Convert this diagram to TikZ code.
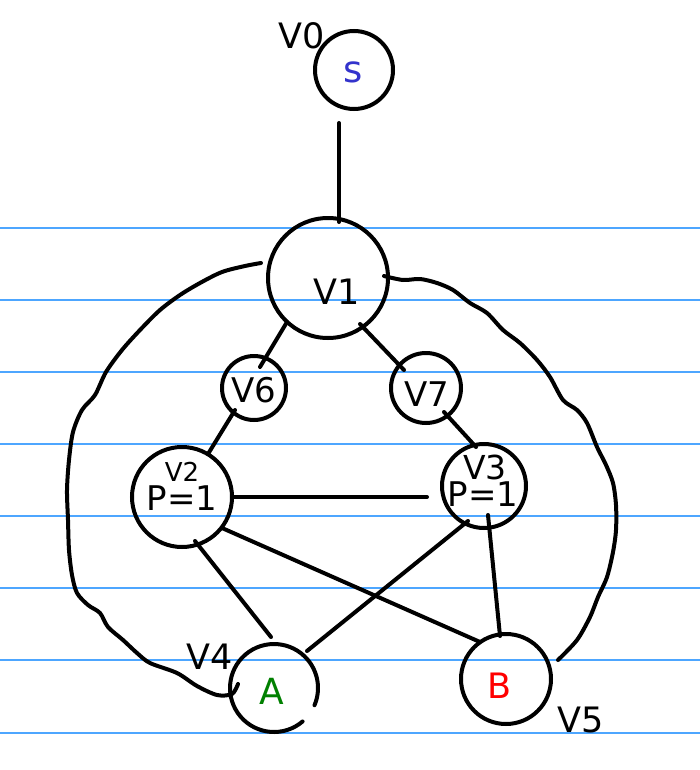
\documentclass[tikz,border=0pt]{standalone}
\usepackage{fontspec}
\setmainfont{DejaVu Sans}
\usetikzlibrary{calc}
\definecolor{ruleblue}{RGB}{77,166,255}
\definecolor{sblue}{RGB}{51,51,204}
\definecolor{agreen}{RGB}{0,128,0}
\begin{document}
\begin{tikzpicture}[x=1pt,y=-1pt,
  vert/.style={circle,draw,line width=4pt,inner sep=0pt},
  lbl/.style={inner sep=0pt,font=\fontsize{35}{40}\selectfont},
  small/.style={inner sep=0pt,font=\fontsize{26}{30}\selectfont},
  edge/.style={line width=4pt,line cap=round},
  rule/.style={ruleblue,line width=1.4pt}]
\fill[white] (0,0) rectangle (700,770);
\useasboundingbox (0,0) rectangle (700,770);
% ruled lines
\foreach \yy in {228,300,372,444,516,588,660,733}
  \draw[rule] (0,\yy) -- (700,\yy);
% vertices
\node[vert,minimum size=78pt] (s) at (354,70) {};
\node[vert,minimum size=120pt] (v1) at (328,278) {};
\node[vert,minimum size=64pt] (v6) at (254,388) {};
\node[vert,minimum size=70pt] (v7) at (426,388) {};
\node[vert,minimum size=100pt] (v2) at (182,497) {};
\node[vert,minimum size=84pt] (v3) at (484,486) {};
\node[inner sep=0pt,minimum size=88pt] (a) at (274,688) {};
\node[vert,minimum size=90pt] (b) at (506,679) {};
% hand-drawn circle of A with a gap
\draw[edge] ($(a)+(49.5:44)$) arc[start angle=49.5,end angle=383,radius=44];
% labels
\node[lbl] (l0) at (302,36) {V0};
\node[lbl,text=sblue,font=\fontsize{37}{42}\selectfont] (ls) at (353,72) {s};
\node[lbl] (l1) at (337,292) {V1};
\node[lbl,font=\fontsize{34}{38}\selectfont] (l6) at (254,390) {V6};
\node[lbl,font=\fontsize{34}{38}\selectfont] (l7) at (427,394) {V7};
\node[small] (l2) at (182,472) {V2};
\node[lbl,font=\fontsize{34}{38}\selectfont] (p2) at (182,498) {P=1};
\node[lbl,font=\fontsize{33}{38}\selectfont] (l3) at (485,467) {V3};
\node[lbl,font=\fontsize{34}{38}\selectfont] (p3) at (483,494) {P=1};
\node[lbl] (l4) at (210,657) {V4};
\node[lbl,text=agreen,font=\fontsize{36}{40}\selectfont] (la) at (272,691) {A};
\node[lbl,text=red,font=\fontsize{35}{40}\selectfont] (lb) at (499,686) {B};
\node[lbl] (l5) at (581,720) {V5};
% edges
\draw[edge] ($(s)+(-15,53)$) -- ($(v1)+(11,-56)$);
\draw[edge] ($(v1)+(-41,44)$) -- ($(v6)+(6,-21)$);
\draw[edge] ($(v1)+(32,46)$) -- ($(v7)+(-22,-18)$);
\draw[edge] ($(v6)+(-19,22)$) -- ($(v2)+(26,-43)$);
\draw[edge] ($(v7)+(18,24)$) -- ($(v3)+(-8,-39)$);
\draw[edge] ($(v2)+(50,0)$) -- ($(v3)+(-57,11)$);
\draw[edge] ($(v2)+(13,44)$) -- ($(a)+(-3,-51)$);
\draw[edge] ($(v2)+(40,31)$) -- ($(b)+(-26,-37)$);
\draw[edge] ($(v3)+(-16,35)$) -- ($(a)+(33,-37)$);
\draw[edge] ($(v3)+(4,29)$) -- ($(b)+(-6,-43)$);
% long curves
\coordinate (c0) at ($(v1)+(-67,-15)$);
\coordinate (c1) at ($(a)+(-36,-4)$);
\draw[edge,line join=round] plot[smooth,tension=0.5] coordinates {
  (c0) (245,266) (222,272) (200,283) (180,295) (160,310) (140,330) (122,350)
  (106,372) (95,395) (82,410) (73,432) (69,460) (67,490) (68,520) (69,550)
  (72,575) (77,593) (88,605) (100,613) (108,627) (123,640) (137,653) (150,663)
  (177,673) (197,686) (217,695) (232,694) (c1)};
\coordinate (d0) at ($(v1)+(56,-2)$);
\coordinate (d1) at ($(b)+(52,-19)$);
\draw[edge,line join=round] plot[smooth,tension=0.5] coordinates {
  (d0) (403,280) (420,279) (437,283) (453,290) (470,303) (487,313) (503,330)
  (520,343) (537,360) (550,377) (563,400) (577,410) (587,423) (597,447)
  (606,465) (613,483) (616,505) (616,530) (613,552) (607,577) (598,597)
  (590,617) (577,640) (d1)};
\end{tikzpicture}
\end{document}
